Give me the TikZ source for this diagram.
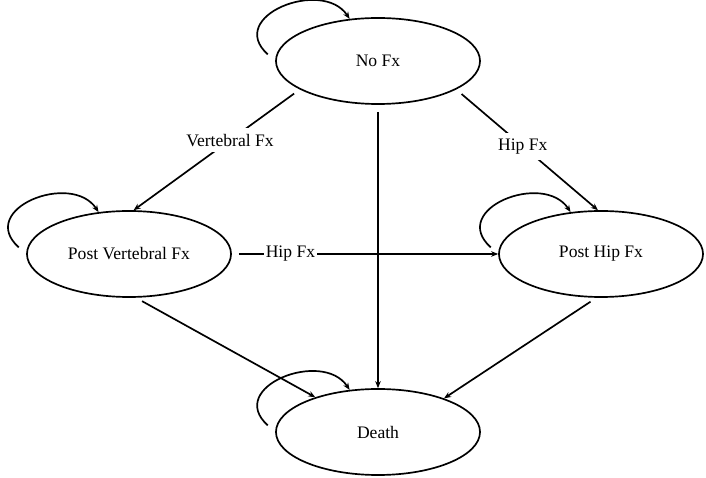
\documentclass[tikz,border=0pt]{standalone}
\usepackage{fontspec}
\setmainfont{Liberation Serif}
\usetikzlibrary{arrows.meta,shapes.geometric}
\begin{document}
\begin{tikzpicture}[x=0.025cm,y=-0.025cm,line width=1.2pt,
    font=\fontsize{12.5}{15}\selectfont,
    state/.style={ellipse,draw,minimum width=5.1cm,minimum height=2.15cm,inner sep=0pt},
    arr/.style={-{Stealth[length=5pt,width=4pt]},shorten <=5pt},
    selfloop/.style={-{Stealth[length=5pt,width=4pt]},shorten <=7pt},
    lbl/.style={fill=white,inner xsep=1pt,inner ysep=4pt}]

    \useasboundingbox (0,0) rectangle (706,478);

    \node[state] (nofx) at (378,61) {No Fx};
    \node[state] (vert) at (129,254) {Post Vertebral Fx};
    \node[state] (hip) at (601,254) {Post Hip Fx};
    \node[state] (death) at (378,432) {Death};

    \draw[arr] (nofx.200) -- node[lbl,pos=0.42] {Vertebral Fx} (vert.84);
    \draw[arr] (nofx.340) -- node[lbl,pos=0.47] {Hip Fx} (hip.94);
    \draw[arr] (nofx.south) -- (death.north);
    \draw[arr] (vert.east) -- node[lbl,pos=0.22] {Hip Fx} (hip.west);
    \draw[arr] (vert.279) -- (death.151);
    \draw[arr] (hip.264) -- (death.27);

    % self loops
    \draw[selfloop] (nofx.west) .. controls +(-50,-45) and +(-27,-41) .. (nofx.124);
    \draw[selfloop] (vert.west) .. controls +(-50,-45) and +(-27,-41) .. (vert.126);
    \draw[selfloop] (hip.west) .. controls +(-50,-45) and +(-27,-41) .. (hip.126);
    \draw[selfloop] (death.west) .. controls +(-50,-45) and +(-27,-41) .. (death.124);
\end{tikzpicture}
\end{document}
